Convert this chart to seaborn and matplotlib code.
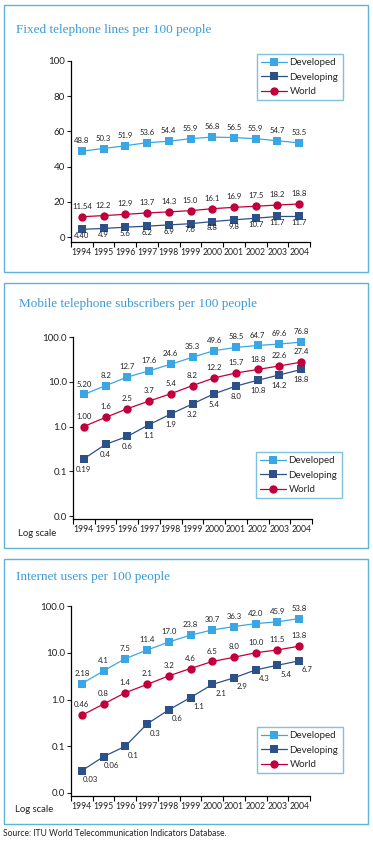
import numpy as np
import pandas as pd
import matplotlib
matplotlib.use('Agg')
import matplotlib.pyplot as plt
from matplotlib.patches import Rectangle
import seaborn as sns

years = ['1994', '1995', '1996', '1997', '1998', '1999', '2000', '2001', '2002', '2003', '2004']

fixed_developed = [48.8, 50.3, 51.9, 53.6, 54.4, 55.9, 56.8, 56.5, 55.9, 54.7, 53.5]
fixed_developing = [4.40, 4.9, 5.6, 6.2, 6.9, 7.6, 8.8, 9.8, 10.7, 11.7, 11.7]
fixed_world = [11.54, 12.2, 12.9, 13.7, 14.3, 15.0, 16.1, 16.9, 17.5, 18.2, 18.8]
fixed_first_labels = ['48.8', '4.40', '11.54']

mobile_developed = [5.20, 8.2, 12.7, 17.6, 24.6, 35.3, 49.6, 58.5, 64.7, 69.6, 76.8]
mobile_developing = [0.19, 0.4, 0.6, 1.1, 1.9, 3.2, 5.4, 8.0, 10.8, 14.2, 18.8]
mobile_world = [1.00, 1.6, 2.5, 3.7, 5.4, 8.2, 12.2, 15.7, 18.8, 22.6, 27.4]
mobile_first_labels = ['5.20', '0.19', '1.00']

internet_developed = [2.18, 4.1, 7.5, 11.4, 17.0, 23.8, 30.7, 36.3, 42.0, 45.9, 53.8]
internet_developing = [0.03, 0.06, 0.1, 0.3, 0.6, 1.1, 2.1, 2.9, 4.3, 5.4, 6.7]
internet_world = [0.46, 0.8, 1.4, 2.1, 3.2, 4.6, 6.5, 8.0, 10.0, 11.5, 13.8]
internet_first_labels = ['2.18', '0.03', '0.46']

series_names = ['Developed', 'Developing', 'World']
fixed_yticks = ['0', '20', '40', '60', '80', '100']
log_yticks = ['0.0', '0.1', '1.0', '10.0', '100.0']

colors = {'Developed': '#3aa7e4', 'Developing': '#2c5189', 'World': '#c1003b'}
markers = {'Developed': 's', 'Developing': 's', 'World': 'o'}
frame_blue = '#5fb2d8'
title_blue = '#3d9ad6'

sns.set_style('white')
plt.rcParams['font.family'] = ['Lato', 'DejaVu Sans']

W, H = 373, 841
fig = plt.figure(figsize=(W / 100, H / 100), dpi=100)


def px_axes(left, top, right, bottom):
    return fig.add_axes([left / W, 1 - bottom / H, (right - left) / W, (bottom - top) / H])


def fmt(v):
    if v < 0.1:
        return '%.2f' % v
    return '%.1f' % v


def panel(box, title, title_xy, ax_px, values, first_labels, log, legend_px, dev_offset, ylim):
    # frame around the panel
    fig.patches.append(Rectangle((box[0] / W, 1 - box[3] / H), (box[2] - box[0]) / W,
                                 (box[3] - box[1]) / H, transform=fig.transFigure,
                                 fill=False, edgecolor=frame_blue, linewidth=1.0))
    fig.text(title_xy[0] / W, 1 - title_xy[1] / H, title, family='Liberation Serif',
             fontsize=9.5, color=title_blue, va='center', ha='left')

    ax = px_axes(*ax_px)
    df = pd.DataFrame({
        'pos': list(range(len(years))) * 3,
        'value': values[0] + values[1] + values[2],
        'series': np.repeat(series_names, len(years)),
    })
    sns.lineplot(data=df, x='pos', y='value', hue='series', style='series',
                 palette=colors, markers=markers, dashes=False, markersize=6,
                 markeredgewidth=0, linewidth=0.9, ax=ax, clip_on=False)
    if log:
        ax.set_yscale('log')
    ax.set_ylim(*ylim)
    ax.set_xlim(-0.5, len(years) - 0.5)

    # value labels
    for name, vals, first in zip(series_names, values, first_labels):
        for i, v in enumerate(vals):
            if name == 'Developing':
                off, va = dev_offset, 'top'
            else:
                off, va = (0, 5), 'bottom'
            txt = first if i == 0 else fmt(v)
            ax.annotate(txt, (i, v), xytext=off, textcoords='offset points',
                        ha='center', va=va, fontsize=5.6, color='#222222')

    ax.set_xlabel('')
    ax.set_ylabel('')
    ax.set_xticks(range(len(years)))
    ax.set_xticklabels(years)
    if log:
        ax.set_yticks([0.01, 0.1, 1, 10, 100])
        ax.set_yticklabels(log_yticks)
        ax.minorticks_off()
    else:
        ax.set_yticks([0, 20, 40, 60, 80, 100])
        ax.set_yticklabels(fixed_yticks)
    ax.set_xticks(np.arange(-0.5, len(years)), minor=True)
    ax.tick_params(axis='x', which='major', length=0, labelsize=6.2, pad=4, colors='#222222')
    ax.tick_params(axis='x', which='minor', length=3.5, width=0.8, direction='out', bottom=True, color='black')
    ax.tick_params(axis='y', which='major', length=3, width=0.8, direction='out', left=True,
                   labelsize=7, pad=1.5, colors='#222222')
    for s in ['top', 'right']:
        ax.spines[s].set_visible(False)
    for s in ['left', 'bottom']:
        ax.spines[s].set_color('black')
        ax.spines[s].set_linewidth(0.9)
    ax.grid(False)

    handles, labels = ax.get_legend_handles_labels()
    ax.get_legend().remove()
    lx0, ly0, lx1, ly1 = legend_px
    leg = fig.legend(handles, labels, loc='upper left',
                     bbox_to_anchor=(lx0 / W, 1 - ly0 / H),
                     frameon=True, fancybox=False, fontsize=7, handlelength=2.6,
                     borderpad=0.45, labelspacing=0.55, handletextpad=0.3,
                     borderaxespad=0)
    leg.get_frame().set_edgecolor(frame_blue)
    leg.get_frame().set_linewidth(1.0)
    return ax


panel((4, 5, 368, 272), 'Fixed telephone lines per 100 people', (16, 30),
      (71, 61, 310, 242), [fixed_developed, fixed_developing, fixed_world],
      fixed_first_labels, False, (257, 54, 341, 103), (0, -2), (-2.8, 100))

bottom2 = 10 ** (-2 - 3 / 44.75)
panel((4, 283, 368, 548), 'Mobile telephone subscribers per 100 people', (19, 304),
      (73, 337, 312, 519), [mobile_developed, mobile_developing, mobile_world],
      mobile_first_labels, True, (256, 452, 342, 500), (0, -5), (bottom2, 100))
fig.text(18 / W, 1 - 533 / H, 'Log scale', fontsize=6.8, va='center', color='#222222')

bottom3 = 10 ** (-2 - 3 / 46.75)
panel((4, 559, 368, 824), 'Internet users per 100 people', (16, 577),
      (71, 606, 310, 796), [internet_developed, internet_developing, internet_world],
      internet_first_labels, True, (257, 727, 342, 778), (6, -4), (bottom3, 100))
fig.text(15 / W, 1 - 810 / H, 'Log scale', fontsize=6.8, va='center', color='#222222')

fig.text(3 / W, 1 - 833 / H, 'Source: ITU World Telecommunication Indicators Database.',
         fontsize=6.15, va='center', color='#222222')

fig.savefig('out.png', dpi=100)
